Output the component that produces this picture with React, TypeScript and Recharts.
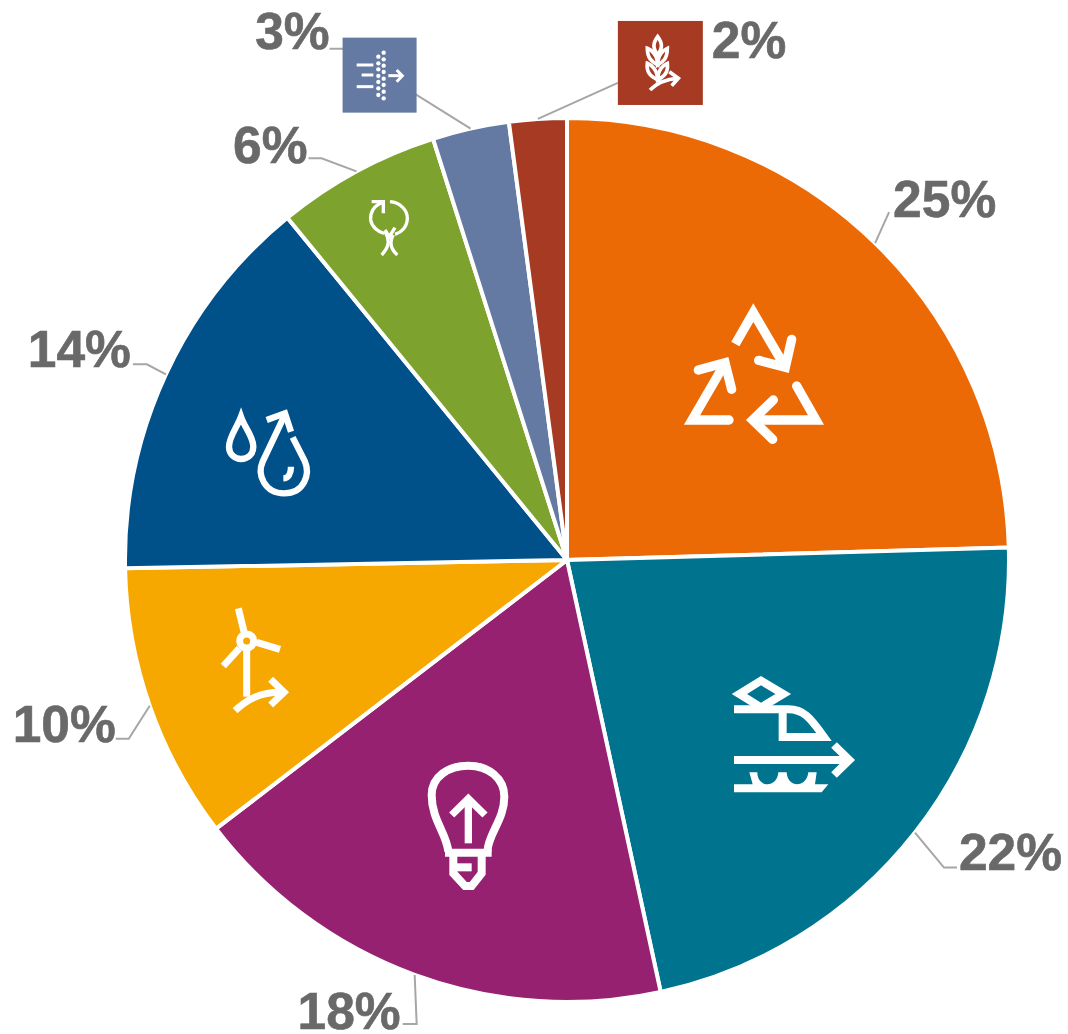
import { Cell, Pie, PieChart } from "recharts";

const categories = ["recycling", "transport", "efficiency", "wind", "water", "circular", "filtering", "agriculture"];
const shares = [24.55, 22.05, 18.0, 10.1, 14.4, 6.0, 2.8, 2.1];
const colors = ["#EC6A06", "#00748F", "#952170", "#F6A800", "#00508A", "#7DA22E", "#647AA3", "#A63A23"];

const data = categories.map((name, i) => ({ name, value: shares[i] }));

const RADIAN = Math.PI / 180;
const LABEL_GREY = "#696969";
const LINE_GREY = "#A6A6A6";

// leader bends, relative to the point where the slice middle meets the rim
const leaders = [
  [[14, -31]],
  [[29, 35], [42, 35]],
  [[2, 49], [-12, 49]],
  [[-21, 33], [-34, 33]],
  [[-19, -10], [-33, -10]],
  [[-35, -13], [-48, -13]],
  [[-128, -80], [-141, -80]],
  [[80, -36]],
];

// label text position, same reference point
const textOffsets = [
  { dx: 18, dy: -26, anchor: "start" },
  { dx: 44, dy: 37, anchor: "start" },
  { dx: -14, dy: 54, anchor: "end" },
  { dx: -34, dy: 36, anchor: "end" },
  { dx: -35, dy: -7, anchor: "end" },
  { dx: -49, dy: -8, anchor: "end" },
  { dx: -141, dy: -80, anchor: "end" },
  { dx: 174, dy: -61, anchor: "start" },
];

// icon boxes for the two thin slices
const iconBoxes = [null, null, null, null, null, null, { dx: -128, dy: -91, w: 74, h: 75 }, { dx: 80, dy: -98, w: 85, h: 84 }];

// icon drawing origin, relative to the pie centre; icons are drawn at 3x and scaled down
const iconOrigins = [
  [63, -310],
  [133, 100],
  [-167, 190],
  [-367, 30],
  [-357, -165],
  [-217, -375],
  [-227, -530],
  [43, -545],
];

const line = { fill: "none", stroke: "#fff", strokeLinejoin: "miter" as const };

function RecycleIcon() {
  return (
    <g {...line} strokeWidth={28} strokeLinecap="round">
      <path d="M316 282 L370 188 L462 345" strokeLinecap="butt" />
      <path d="M485 268 L466 352 L386 331" />
      <path d="M297 510 L186 510 L282 345" />
      <path d="M205 360 L285 338 L305 418" />
      <path d="M500 408 L558 510 L372 510" />
      <path d="M430 450 L368 510 L428 568" />
    </g>
  );
}

function TrainIcon() {
  return (
    <g>
      <g {...line} strokeWidth={24}>
        <path d="M183 62 L250 102 L183 142 L118 102 Z" />
        <path d="M102 148 H265 C310 148 330 172 372 231 H248 V148" />
        <path d="M102 300 H446" />
        <path d="M402 255 L448 300 L402 345" />
      </g>
      <path
        d="M102 373 H158 L148 337 H172 C172 385 232 385 235 337 H260 C262 385 320 385 325 337 H350 L345 373 H385 L365 397 H102 Z"
        fill="#fff"
      />
    </g>
  );
}

function BulbIcon() {
  return (
    <g {...line} strokeWidth={24}>
      <path d="M145 305 C140 250 95 210 95 135 C95 80 145 47 205 47 C265 47 313 85 313 140 C313 210 265 250 262 305" />
      <path d="M135 308 H275" />
      <path d="M160 308 V370 L195 408 H215 L245 370 V308" />
      <path d="M160 352 H215" />
      <path d="M205 280 V148" strokeWidth={22} />
      <path d="M155 195 L205 146 L255 195" strokeWidth={22} />
    </g>
  );
}

function WindIcon() {
  return (
    <g {...line} strokeWidth={21}>
      <circle cx={140} cy={153} r={21} />
      <path d="M115 55 L132 125" />
      <path d="M170 157 L240 178" />
      <path d="M118 175 L70 228" />
      <path d="M140 180 V320" />
      <path d="M105 362 C140 330 180 305 248 307" />
      <path d="M212 268 L252 307 L212 345" />
    </g>
  );
}

function WaterIcon() {
  return (
    <g {...line} strokeWidth={19}>
      <path d="M93 65 C80 100 57 125 57 155 C57 178 75 192 93 192 C113 192 130 178 130 155 C130 125 105 100 93 65 Z" />
      <path d="M248 127 L285 200 C300 235 285 295 222 295 C165 295 140 240 158 200 L222 65" />
      <path d="M170 75 L225 55 L243 110" />
      <path d="M220 250 C235 250 243 235 243 215" />
    </g>
  );
}

function CircularIcon() {
  return (
    <g {...line} strokeWidth={10}>
      <path d="M100 52 C70 60 60 85 62 105 C65 125 85 142 102 145" />
      <path d="M65 50 H100 V85" />
      <path d="M120 50 C150 52 172 75 172 100 C172 125 155 142 135 148" />
      <path d="M105 140 C120 165 118 185 95 210" />
      <path d="M130 150 C118 170 120 190 142 210" />
      <path d="M105 135 L118 155 L135 128" />
    </g>
  );
}

const filterDotsA = [68, 88, 107, 126, 146, 165, 185, 205];
const filterDotsB = [80, 100, 118, 138, 156, 175, 195];

function FilterIcon() {
  return (
    <g>
      <g {...line} strokeWidth={9}>
        <path d="M50 105 H100" />
        <path d="M65 135 H100" />
        <path d="M50 170 H100" />
        <path d="M145 137 H185" />
        <path d="M170 120 L187 137 L170 155" />
      </g>
      {filterDotsA.map((y) => (
        <circle key={y} cx={131} cy={y} r={6.5} fill="#fff" />
      ))}
      {filterDotsB.map((y) => (
        <circle key={y} cx={115} cy={y} r={6.5} fill="#fff" />
      ))}
    </g>
  );
}

function WheatIcon() {
  return (
    <g {...line} strokeWidth={11}>
      <path d="M143 65 C128 85 128 100 143 120 C158 100 158 85 143 65 Z" />
      <path d="M112 100 C112 130 125 140 143 150 C143 120 125 105 112 100 Z" />
      <path d="M172 100 C172 130 160 140 143 150 C143 120 160 105 172 100 Z" />
      <path d="M112 145 C108 175 125 185 143 195 C143 165 125 150 112 145 Z" />
      <path d="M172 145 C176 175 160 185 143 195 C143 165 160 150 172 145 Z" />
      <path d="M143 190 L152 207" />
      <path d="M120 225 C140 205 170 192 203 190" />
      <path d="M178 170 L205 190 L185 212" />
    </g>
  );
}

const icons = [RecycleIcon, TrainIcon, BulbIcon, WindIcon, WaterIcon, CircularIcon, FilterIcon, WheatIcon];

function SliceLabel(props: any) {
  const { cx, cy, midAngle, outerRadius, index, value } = props;
  const rimX = cx + outerRadius * Math.cos(-midAngle * RADIAN);
  const rimY = cy + outerRadius * Math.sin(-midAngle * RADIAN);
  const points = [[0, 0], ...leaders[index]].map(([dx, dy]) => `${rimX + dx},${rimY + dy}`).join(" ");
  const text = textOffsets[index];
  const box = iconBoxes[index];
  const Icon = icons[index];
  const [ox, oy] = iconOrigins[index];

  return (
    <g>
      <polyline points={points} fill="none" stroke={LINE_GREY} strokeWidth={2} />
      {box && <rect x={rimX + box.dx} y={rimY + box.dy} width={box.w} height={box.h} fill={colors[index]} />}
      <g transform={`translate(${cx + ox} ${cy + oy}) scale(${1 / 3})`}>
        <Icon />
      </g>
      <text
        x={rimX + text.dx}
        y={rimY + text.dy}
        textAnchor={text.anchor}
        fontFamily="Liberation Sans"
        fontWeight={700}
        fontSize={51.5}
        fill={LABEL_GREY}
        stroke={LABEL_GREY}
        strokeWidth={0.6}
      >
        {Math.round(value)}%
      </text>
    </g>
  );
}

export default function App() {
  return (
    <div style={{ position: "absolute", left: 0, top: 0, width: 1068, height: 1034 }}>
      <PieChart width={1068} height={1034} margin={{ top: 0, right: 0, bottom: 0, left: 0 }}>
        <Pie
          data={data}
          dataKey="value"
          nameKey="name"
          cx={567}
          cy={560}
          innerRadius={0}
          outerRadius={442}
          startAngle={90}
          endAngle={-270}
          stroke="#fff"
          strokeWidth={4}
          label={SliceLabel}
          labelLine={false}
          isAnimationActive={false}
        >
          {data.map((d, i) => (
            <Cell key={d.name} fill={colors[i]} />
          ))}
        </Pie>
      </PieChart>
    </div>
  );
}
